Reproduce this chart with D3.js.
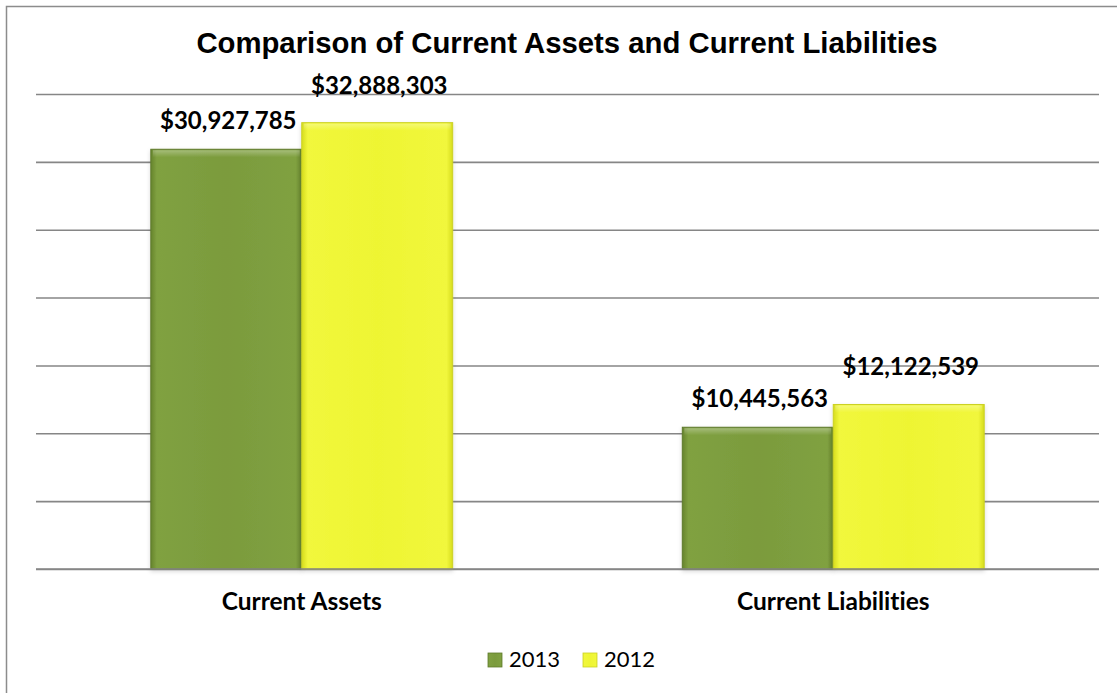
<!DOCTYPE html>
<html>
<head>
<meta charset="utf-8">
<script src="https://cdn.jsdelivr.net/npm/d3@7"></script>
<style>
  html, body { margin: 0; padding: 0; background: #ffffff; }
  svg { display: block; }
  text { font-variant-ligatures: none; font-feature-settings: "liga" 0, "clig" 0; }
</style>
</head>
<body>
<div id="chart"></div>
<script>
// Data
const categories = ["Current Assets", "Current Liabilities"];
const seriesNames = ["2013", "2012"];
const values2013 = [30927785, 10445563];
const values2012 = [32888303, 12122539];
const yTicks = [0, 5e6, 10e6, 15e6, 20e6, 25e6, 30e6, 35e6];
const chartTitle = "Comparison of Current Assets and Current Liabilities";

const W = 1117, H = 693;
const plot = { left: 36, right: 1099, top: 94, bottom: 569 };

const svg = d3.select("#chart").append("svg")
  .attr("width", W).attr("height", H);

const defs = svg.append("defs");

// Bevel-like fills for each series
const palettes = {
  "2013": { edge: "#66842c", mid: "#7b9b3d", light: "#80a141", stroke: "#5f7a2c" },
  "2012": { edge: "#d6dc1e", mid: "#eef533", light: "#f1f73c", stroke: "#cbd124" }
};
Object.entries(palettes).forEach(([k, p]) => {
  const g = defs.append("linearGradient").attr("id", "fill" + k)
    .attr("x1", "0").attr("x2", "1").attr("y1", "0").attr("y2", "0");
  [[0, p.edge], [0.04, p.light], [0.5, p.mid], [0.96, p.light], [1, p.edge]]
    .forEach(([o, c]) => g.append("stop").attr("offset", o).attr("stop-color", c));
});
const hl = defs.append("linearGradient").attr("id", "topHi")
  .attr("x1", "0").attr("x2", "0").attr("y1", "0").attr("y2", "1");
hl.append("stop").attr("offset", 0).attr("stop-color", "#ffffff").attr("stop-opacity", 0.3);
hl.append("stop").attr("offset", 1).attr("stop-color", "#ffffff").attr("stop-opacity", 0);
const sh = defs.append("filter").attr("id", "shadow")
  .attr("x", "-10%").attr("y", "-10%").attr("width", "120%").attr("height", "120%");
sh.append("feDropShadow").attr("dx", 0).attr("dy", 2).attr("stdDeviation", 2)
  .attr("flood-color", "#000").attr("flood-opacity", 0.15);

// Outer frame
svg.append("rect")
  .attr("x", 6.5).attr("y", 6.5).attr("width", 1130).attr("height", 700)
  .attr("fill", "#ffffff").attr("stroke", "#8c8c8c").attr("stroke-width", 1.5);

// Title
svg.append("text")
  .attr("x", 567).attr("y", 53)
  .attr("text-anchor", "middle")
  .attr("font-family", "'Liberation Sans', Arial, sans-serif")
  .attr("font-weight", "bold").attr("font-size", 29.3)
  .attr("fill", "#000")
  .text(chartTitle);

// Scales
const y = d3.scaleLinear().domain([0, 35e6]).range([plot.bottom, plot.top]);
const x0 = d3.scaleBand().domain(categories).range([plot.left, plot.right])
  .paddingInner(0.432).paddingOuter(0.216);
const x1 = d3.scaleBand().domain(seriesNames).range([0, x0.bandwidth()]).padding(0);

// Gridlines
const yAxis = d3.axisLeft(y).tickValues(yTicks)
  .tickSize(-(plot.right - plot.left)).tickFormat("");
const gGrid = svg.append("g").attr("transform", `translate(${plot.left},0)`).call(yAxis);
gGrid.select(".domain").remove();
gGrid.selectAll(".tick line").attr("stroke", "#868686").attr("stroke-width", 1.6);

// Bars
const rows = categories.map((c, i) => ({
  category: c,
  items: [
    { series: "2013", value: values2013[i] },
    { series: "2012", value: values2012[i] }
  ]
}));

const groups = svg.append("g").selectAll("g").data(rows).join("g")
  .attr("transform", d => `translate(${x0(d.category)},0)`);

groups.selectAll("rect.bar").data(d => d.items).join("rect")
  .attr("class", "bar")
  .attr("x", d => x1(d.series))
  .attr("y", d => y(d.value))
  .attr("width", x1.bandwidth())
  .attr("height", d => y(0) - y(d.value))
  .attr("fill", d => `url(#fill${d.series})`)
  .attr("stroke", d => palettes[d.series].stroke)
  .attr("stroke-width", 1)
  .attr("filter", "url(#shadow)");

groups.selectAll("rect.hi").data(d => d.items).join("rect")
  .attr("class", "hi")
  .attr("x", d => x1(d.series) + 2)
  .attr("y", d => y(d.value) + 1)
  .attr("width", x1.bandwidth() - 4)
  .attr("height", 7)
  .attr("fill", "url(#topHi)");

// Redraw baseline on top of bars
svg.append("line")
  .attr("x1", plot.left).attr("x2", plot.right)
  .attr("y1", y(0)).attr("y2", y(0))
  .attr("stroke", "#868686").attr("stroke-width", 1.6);

// Data labels
const labelLift = { "2013": 20, "2012": 29 };
const fmt = d3.format("$,");
groups.selectAll("text.val").data(d => d.items).join("text")
  .attr("class", "val")
  .attr("x", d => x1(d.series) + x1.bandwidth() / 2 + 2)
  .attr("y", d => y(d.value) - labelLift[d.series])
  .attr("text-anchor", "middle")
  .attr("font-family", "Lato, 'Open Sans', sans-serif")
  .attr("font-weight", "bold").attr("font-size", 24)
  .attr("fill", "#000")
  .text(d => fmt(d.value));

// Category labels
svg.append("g").selectAll("text").data(categories).join("text")
  .attr("x", d => x0(d) + x0.bandwidth() / 2)
  .attr("y", 610)
  .attr("text-anchor", "middle")
  .attr("font-family", "Lato, 'Open Sans', sans-serif")
  .attr("font-weight", "bold").attr("font-size", 24.5)
  .attr("fill", "#000")
  .text(d => d);

// Legend
const legendX = { "2013": 488, "2012": 583 };
const legend = svg.append("g").selectAll("g").data(seriesNames).join("g")
  .attr("transform", d => `translate(${legendX[d]},653)`);
legend.append("rect")
  .attr("width", 14).attr("height", 14)
  .attr("fill", d => `url(#fill${d})`)
  .attr("stroke", d => palettes[d].stroke).attr("stroke-width", 0.8);
legend.append("text")
  .attr("x", 21).attr("y", 14)
  .attr("font-family", "Lato, 'Open Sans', sans-serif")
  .attr("font-size", 22)
  .attr("fill", "#000")
  .text(d => d);
</script>
</body>
</html>
